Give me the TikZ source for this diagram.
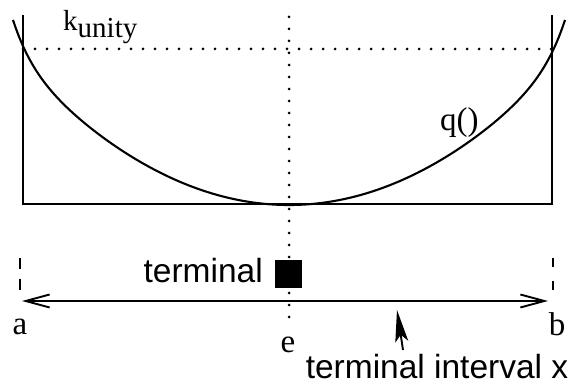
\documentclass[tikz,border=0pt]{standalone}
\usepackage{fontspec}
\setmainfont{Liberation Serif}
\setsansfont{Liberation Sans}
\usetikzlibrary{arrows.meta}
\tikzset{
  solidline/.style={line width=2.1pt},
  dotline/.style={line width=3pt, line cap=round, dash pattern=on 0pt off 12pt},
  seriflabel/.style={font=\fontsize{33}{33}\selectfont, inner sep=0pt},
  sanslabel/.style={font=\sffamily\fontsize{33.5}{33.5}\selectfont, inner sep=0pt},
  declare function={uu(\t)=abs(\t)/276; uc(\t)=uu(\t)*uu(\t)*uu(\t); ufift(\t)=uc(\t)*uc(\t)*uc(\t)*uc(\t)*uc(\t); hh(\t)=\t/100;},
}
\begin{document}
\begin{tikzpicture}[x=1pt,y=-1pt]
\useasboundingbox (0,0) rectangle (573,387);
% coordinates
\coordinate (tl) at (23,15);
\coordinate (bl) at (23,204);
\coordinate (tr) at (552,15);
\coordinate (br) at (552,204);
\coordinate (kl) at (23,49);
\coordinate (kr) at (552,49);
\coordinate (et) at (289,17);
\coordinate (eb) at (289,323);
\coordinate (al) at (22,301);
\coordinate (ar) at (548,301);
\coordinate (dat) at (20,258);
\coordinate (dab) at (20,298);
\coordinate (dbt) at (553,258);
\coordinate (dbb) at (553,298);
\coordinate (pt) at (397,310);
\coordinate (pb) at (403,350);
% box frame
\draw[solidline] (tl) -- (bl) -- (br) -- (tr);
% dotted lines
\draw[dotline] (kl) -- (kr);
\draw[dotline] (et) -- (eb);
% curve
\draw[solidline] plot[domain=-276:276, samples=241, smooth]
  (289+\x, {205 - 19.5*hh(\x)*hh(\x) - 36.5*ufift(\x)});
% interval arrow
\draw[line width=1.9pt, {Straight Barb[length=24pt,width=13pt,line width=1.9pt]}-{Straight Barb[length=24pt,width=13pt,line width=1.9pt]}] (al) -- (ar);
% dashed end markers
\draw[line width=1.9pt, dash pattern=on 11pt off 10pt] (dat) -- (dab);
\draw[line width=1.9pt, dash pattern=on 9pt off 14pt] (dbt) -- (dbb);
% terminal square
\node[fill=black, minimum width=27pt, minimum height=28pt, inner sep=0pt] (sq) at (288.5,274) {};
% pointer arrow
\draw[line width=1.9pt, -{Stealth[length=32pt,width=13pt,inset=7pt]}] (pb) -- (pt);
% labels
\node[font=\fontsize{29}{29}\selectfont, inner sep=0pt, anchor=base west] (k) at (63,31) {k\raisebox{-0.22em}{unity}};
\node[seriflabel, anchor=base west] (q) at (440,131) {q()};
\node[seriflabel] (a) at (20,327) {a};
\node[seriflabel] (b) at (557,324) {b};
\node[seriflabel] (e) at (288,345) {e};
\node[sanslabel, anchor=base east] (term) at (263,283) {terminal};
\node[sanslabel, anchor=base] (ti) at (437,378) {terminal interval x};
\end{tikzpicture}
\end{document}
